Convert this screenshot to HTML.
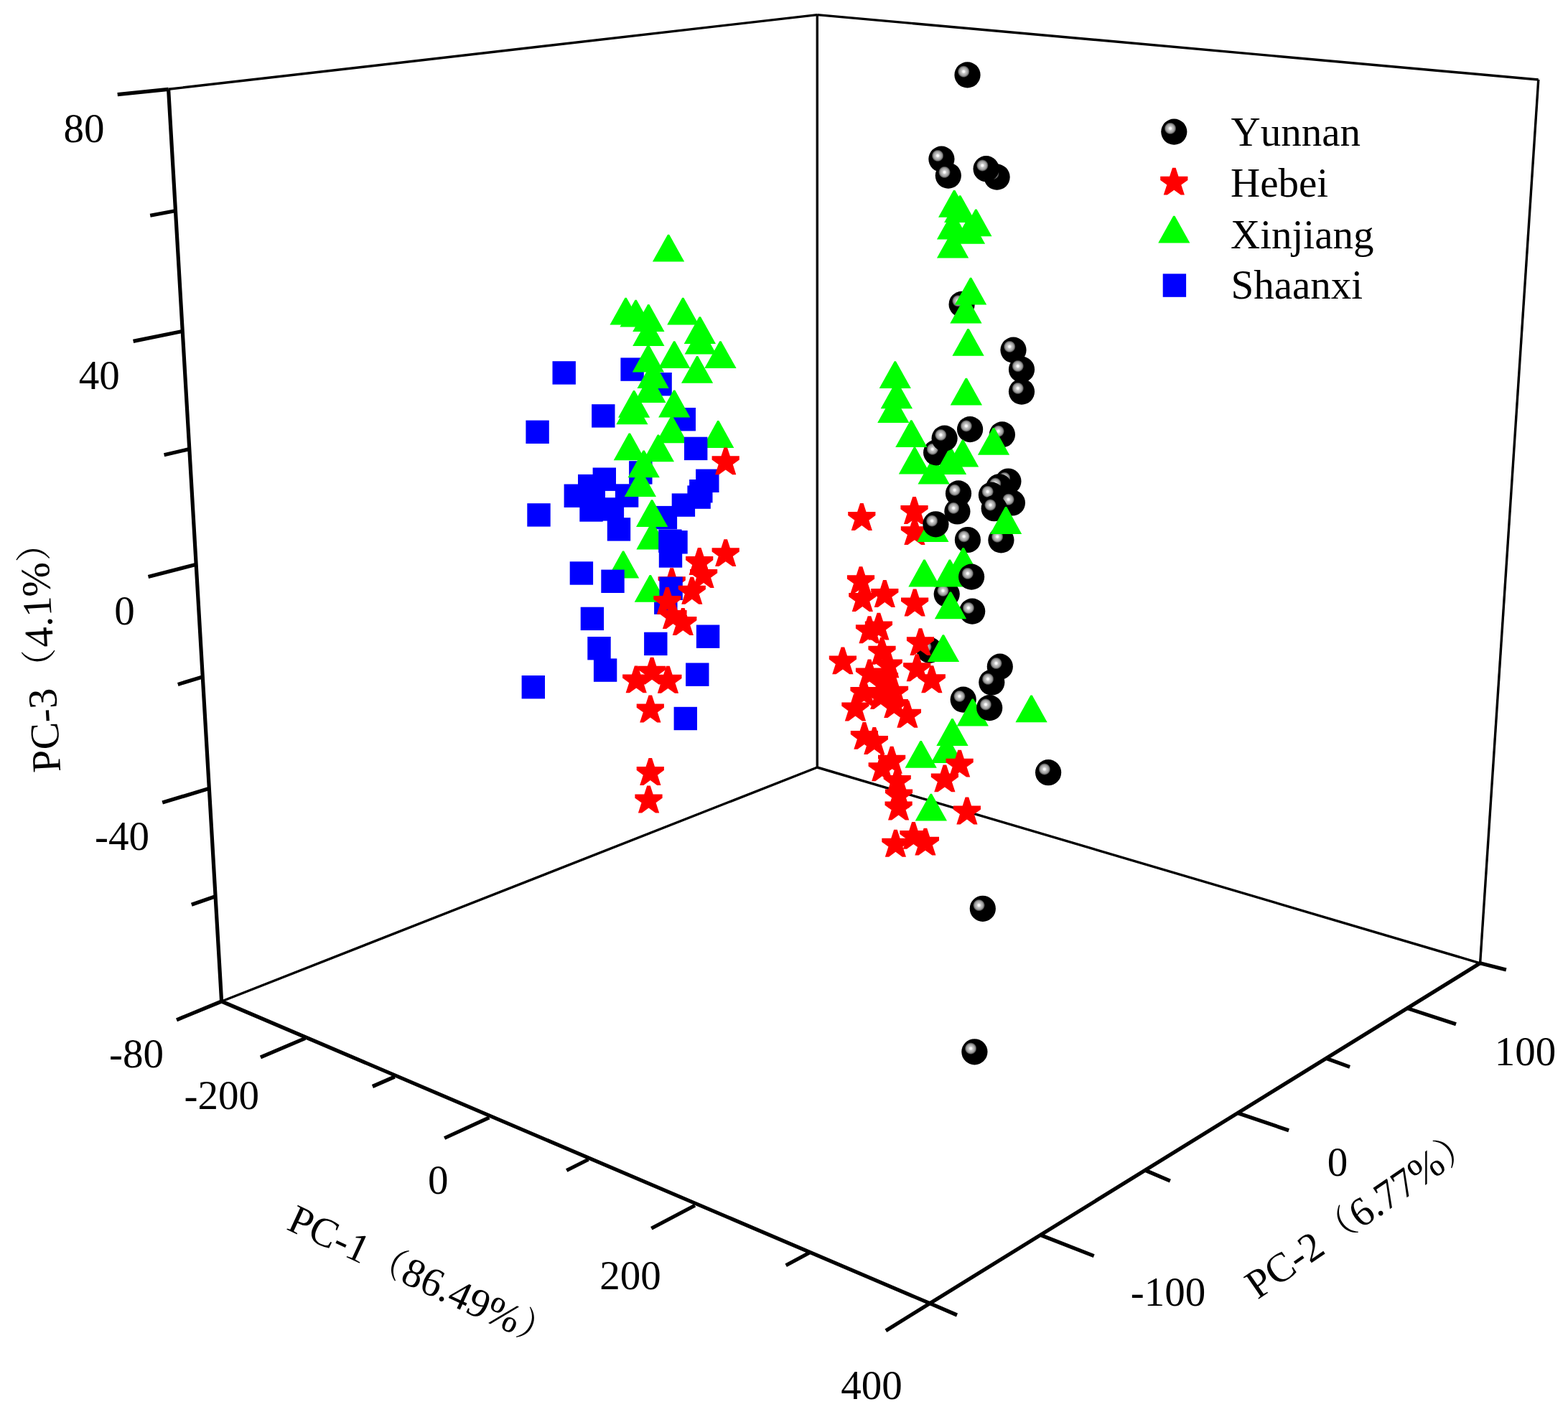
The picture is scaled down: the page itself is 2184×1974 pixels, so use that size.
<!DOCTYPE html>
<html lang="en">
<head>
<meta charset="utf-8">
<title>PCA 3D score plot</title>
<style>html,body{margin:0;padding:0;background:#fff}body{width:2184px;height:1974px;overflow:hidden}svg{display:block}</style>
</head>
<body>
<svg width="2184" height="1974" viewBox="0 0 2184 1974" role="img" aria-label="3D PCA score plot">
<defs><radialGradient id="sg" cx="0.354" cy="0.37" r="0.232" gradientUnits="objectBoundingBox"><stop offset="0" stop-color="#ffffff"/><stop offset="0.18" stop-color="#f6f6f6"/><stop offset="0.36" stop-color="#c4c4c4"/><stop offset="0.62" stop-color="#a8a8a8"/><stop offset="0.82" stop-color="#787878"/><stop offset="1" stop-color="#000000"/></radialGradient></defs>
<rect width="2184" height="1974" fill="#fff"/>
<g stroke="#000" stroke-linecap="butt" fill="none">
<line x1="234.6" y1="124.3" x2="1138.3" y2="20.6" stroke-width="3.4"/>
<line x1="1138.3" y1="20.6" x2="2142.8" y2="111" stroke-width="3.4"/>
<line x1="1138.3" y1="20.6" x2="1138.3" y2="1069" stroke-width="3.4"/>
<line x1="1138.3" y1="1069" x2="308.6" y2="1395" stroke-width="3.4"/>
<line x1="1138.3" y1="1069" x2="2061.6" y2="1341.8" stroke-width="3.4"/>
<line x1="2142.8" y1="111" x2="2061.6" y2="1341.8" stroke-width="3.4"/>
</g>
<g stroke="#000" stroke-linecap="butt" stroke-linejoin="round" fill="none">
<polyline points="234.6,124.3 308.6,1395 1295.1,1815.7 2061.6,1341.8" stroke-width="5.2"/>
<line x1="163.7" y1="131.7" x2="234.6" y2="124.3" stroke-width="5.2"/>
<line x1="209.2" y1="300.2" x2="242.5" y2="294" stroke-width="5.2"/>
<line x1="185.6" y1="475.4" x2="252.6" y2="461.8" stroke-width="5.2"/>
<line x1="228.6" y1="633.7" x2="263.5" y2="625.6" stroke-width="5.2"/>
<line x1="206.5" y1="803.6" x2="272.5" y2="786.5" stroke-width="5.2"/>
<line x1="247.8" y1="953.4" x2="282" y2="943" stroke-width="5.2"/>
<line x1="226.2" y1="1118" x2="291" y2="1098.6" stroke-width="5.2"/>
<line x1="266.8" y1="1260.2" x2="300" y2="1248.7" stroke-width="5.2"/>
<line x1="246" y1="1420.8" x2="308.6" y2="1395" stroke-width="5.2"/>
<line x1="362.9" y1="1472.9" x2="425.2" y2="1446.3" stroke-width="5.2"/>
<line x1="518.9" y1="1513.5" x2="549.8" y2="1500" stroke-width="5.2"/>
<line x1="619.1" y1="1585.5" x2="681.4" y2="1556.8" stroke-width="5.2"/>
<line x1="789.2" y1="1630.5" x2="819.5" y2="1615.3" stroke-width="5.2"/>
<line x1="907.3" y1="1711.2" x2="968" y2="1679.2" stroke-width="5.2"/>
<line x1="1094.7" y1="1762.7" x2="1127.2" y2="1745.3" stroke-width="5.2"/>
<line x1="1233.9" y1="1853.7" x2="1295.1" y2="1815.7" stroke-width="5.2"/>
<line x1="1295.1" y1="1815.7" x2="1333" y2="1832" stroke-width="5.2"/>
<line x1="1450.6" y1="1721" x2="1523.7" y2="1749.7" stroke-width="5.2"/>
<line x1="1595.7" y1="1630.5" x2="1629.9" y2="1645.1" stroke-width="5.2"/>
<line x1="1723" y1="1550.3" x2="1795.1" y2="1574.7" stroke-width="5.2"/>
<line x1="1847.6" y1="1474.5" x2="1880.1" y2="1486.4" stroke-width="5.2"/>
<line x1="1958.7" y1="1404.1" x2="2028" y2="1426.8" stroke-width="5.2"/>
<line x1="2061.6" y1="1341.8" x2="2097.9" y2="1351" stroke-width="5.2"/>
</g>
<g fill="#0000ff"><rect x="769.5" y="503.2" width="32.4" height="32.4"/><rect x="864.4" y="498.4" width="32.4" height="32.4"/><rect x="903.4" y="519" width="32.4" height="32.4"/><rect x="824.1" y="563.2" width="32.4" height="32.4"/><rect x="936.6" y="568" width="32.4" height="32.4"/><rect x="732.4" y="585.6" width="32.4" height="32.4"/><rect x="825.6" y="651.5" width="32.4" height="32.4"/><rect x="805" y="660.9" width="32.4" height="32.4"/><rect x="785.6" y="674.5" width="32.4" height="32.4"/><rect x="876.1" y="642.2" width="32.4" height="32.4"/><rect x="856.9" y="674.3" width="32.4" height="32.4"/><rect x="810.6" y="679.7" width="32.4" height="32.4"/><rect x="807.3" y="694.3" width="32.4" height="32.4"/><rect x="836.7" y="693.2" width="32.4" height="32.4"/><rect x="845.8" y="721.2" width="32.4" height="32.4"/><rect x="969.1" y="653.6" width="32.4" height="32.4"/><rect x="960.1" y="668" width="32.4" height="32.4"/><rect x="957.4" y="676.4" width="32.4" height="32.4"/><rect x="935.7" y="687.4" width="32.4" height="32.4"/><rect x="910.7" y="704.9" width="32.4" height="32.4"/><rect x="734.3" y="701.2" width="32.4" height="32.4"/><rect x="793.7" y="782.3" width="32.4" height="32.4"/><rect x="808.7" y="845.7" width="32.4" height="32.4"/><rect x="818.3" y="887" width="32.4" height="32.4"/><rect x="826.9" y="917.4" width="32.4" height="32.4"/><rect x="726.6" y="941" width="32.4" height="32.4"/><rect x="897.1" y="880.7" width="32.4" height="32.4"/><rect x="969.9" y="870.5" width="32.4" height="32.4"/><rect x="955.1" y="923.5" width="32.4" height="32.4"/><rect x="938.6" y="984.8" width="32.4" height="32.4"/><rect x="911.1" y="823.4" width="32.4" height="32.4"/></g>
<g fill="#ff0000"><polygon points="945.7,815 950.3,829.1 945.1,829.1 935.7,822.3 926.2,829.1 921,829.1 925.6,815 916.6,808.4 916.6,803.2 929.5,803.2 933.3,791.2 938,791.2 941.8,803.2 954.8,803.2 954.8,808.4"/></g>
<g fill="#00ff00"><polygon points="932.2,326.7 953.2,364.5 908.9,364.5 930,326.7"/><polygon points="872.7,414.7 893.8,452.5 849.5,452.5 870.5,414.7"/><polygon points="886.7,417.8 907.7,455.6 863.5,455.6 884.5,417.8"/><polygon points="904.4,424.1 925.5,461.9 881.2,461.9 902.2,424.1"/><polygon points="952.4,414.7 973.4,452.5 929.2,452.5 950.2,414.7"/><polygon points="904.4,444.1 925.5,481.9 881.2,481.9 902.2,444.1"/><polygon points="976,441.2 997,479 952.7,479 973.7,441.2"/><polygon points="976.8,455.8 997.8,493.6 953.6,493.6 974.6,455.8"/><polygon points="1004.5,475.2 1025.6,513 981.3,513 1002.3,475.2"/><polygon points="940.3,475.2 961.3,513 917.1,513 938.1,475.2"/><polygon points="904,480.6 925,518.4 880.8,518.4 901.8,480.6"/><polygon points="972.2,496 993.2,533.8 949,533.8 970,496"/><polygon points="910.7,503.3 931.7,541.1 887.5,541.1 908.5,503.3"/><polygon points="906.5,523.1 927.5,560.9 883.3,560.9 904.3,523.1"/><polygon points="884.2,544 905.2,581.8 861,581.8 882,544"/><polygon points="881.5,553.4 902.5,591.2 858.3,591.2 879.3,553.4"/><polygon points="940.3,543.6 961.3,581.4 917.1,581.4 938.1,543.6"/><polygon points="936.8,579.4 957.8,617.2 913.5,617.2 934.5,579.4"/><polygon points="1001.4,586.1 1022.4,623.9 978.2,623.9 999.2,586.1"/><polygon points="878,603.4 899,641.2 854.7,641.2 875.7,603.4"/><polygon points="918,605.5 939,643.3 894.8,643.3 915.8,605.5"/><polygon points="897.8,627.4 918.8,665.2 874.5,665.2 895.5,627.4"/><polygon points="893,654.2 914,692 869.7,692 890.7,654.2"/><polygon points="909.2,696.3 930.3,734.1 886,734.1 907,696.3"/><polygon points="909.7,727.6 930.7,765.4 886.4,765.4 907.4,727.6"/><polygon points="869.2,767.6 890.2,805.4 846,805.4 867,767.6"/><polygon points="906.9,801 928,838.8 883.7,838.8 904.7,801"/></g>
<g fill="#0000ff"><rect x="953" y="608.7" width="32.4" height="32.4"/><rect x="917.2" y="737.5" width="32.4" height="32.4"/><rect x="925.3" y="739.1" width="32.4" height="32.4"/><rect x="917.8" y="758.3" width="32.4" height="32.4"/><rect x="837.3" y="793.6" width="32.4" height="32.4"/><rect x="918.4" y="803.6" width="32.4" height="32.4"/></g>
<g fill="#ff0000"><polygon points="1020.8,647.1 1025.3,661.3 1020.2,661.3 1010.7,654.4 1001.3,661.3 996.1,661.3 1000.7,647.1 991.6,640.5 991.6,635.3 1004.5,635.3 1008.4,623.4 1013,623.4 1016.9,635.3 1029.8,635.3 1029.8,640.5"/><polygon points="1020.8,775 1025.3,789.1 1020.2,789.1 1010.7,782.2 1001.3,789.1 996.1,789.1 1000.7,775 991.6,768.4 991.6,763.2 1004.5,763.2 1008.4,751.2 1013,751.2 1016.9,763.2 1029.8,763.2 1029.8,768.4"/><polygon points="984.3,786.9 988.9,801 983.7,801 974.2,794.1 964.8,801 959.6,801 964.2,786.9 955.1,780.3 955.1,775.1 968,775.1 971.9,763.1 976.5,763.1 980.4,775.1 993.3,775.1 993.3,780.3"/><polygon points="990.1,804.8 994.7,818.9 989.5,818.9 980.1,812.1 970.6,818.9 965.4,818.9 970,804.8 961,798.2 961,793 973.9,793 977.8,781 982.4,781 986.3,793 999.2,793 999.2,798.2"/><polygon points="973.8,827.5 978.4,841.7 973.2,841.7 963.8,834.8 954.4,841.7 949.2,841.7 953.8,827.5 944.7,820.9 944.7,815.7 957.6,815.7 961.5,803.8 966.1,803.8 970,815.7 982.9,815.7 982.9,820.9"/><polygon points="939.4,841.7 944,855.8 938.8,855.8 929.4,849 920,855.8 914.8,855.8 919.4,841.7 910.3,835.1 910.3,829.9 923.2,829.9 927.1,817.9 931.7,817.9 935.6,829.9 948.5,829.9 948.5,835.1"/><polygon points="947.6,861.7 952.1,875.9 947,875.9 937.5,869 928.1,875.9 922.9,875.9 927.5,861.7 918.4,855.1 918.4,849.9 931.3,849.9 935.2,838 939.8,838 943.7,849.9 956.6,849.9 956.6,855.1"/><polygon points="961.3,870.9 965.9,885 960.7,885 951.3,878.2 941.9,885 936.7,885 941.3,870.9 932.2,864.3 932.2,859.1 945.1,859.1 949,847.1 953.6,847.1 957.5,859.1 970.4,859.1 970.4,864.3"/><polygon points="918.1,939.5 922.7,953.6 917.6,953.6 908.1,946.8 898.7,953.6 893.5,953.6 898.1,939.5 889,932.9 889,927.7 901.9,927.7 905.8,915.7 910.4,915.7 914.3,927.7 927.2,927.7 927.2,932.9"/><polygon points="896.3,951.2 900.8,965.3 895.7,965.3 886.2,958.5 876.8,965.3 871.6,965.3 876.2,951.2 867.1,944.6 867.1,939.4 880,939.4 883.9,927.4 888.5,927.4 892.4,939.4 905.3,939.4 905.3,944.6"/><polygon points="940.5,951.6 945.1,965.7 939.9,965.7 930.4,958.9 921,965.7 915.8,965.7 920.4,951.6 911.3,945 911.3,939.8 924.2,939.8 928.1,927.8 932.7,927.8 936.6,939.8 949.5,939.8 949.5,945"/><polygon points="915.9,992.3 920.5,1006.4 915.3,1006.4 905.8,999.5 896.4,1006.4 891.2,1006.4 895.8,992.3 886.7,985.7 886.7,980.5 899.6,980.5 903.5,968.5 908.1,968.5 912,980.5 924.9,980.5 924.9,985.7"/><polygon points="915.9,1079.7 920.5,1093.9 915.3,1093.9 905.8,1087 896.4,1093.9 891.2,1093.9 895.8,1079.7 886.7,1073.1 886.7,1068 899.6,1068 903.5,1056 908.1,1056 912,1068 924.9,1068 924.9,1073.1"/><polygon points="913.6,1118.3 918.2,1132.5 913,1132.5 903.5,1125.6 894.1,1132.5 888.9,1132.5 893.5,1118.3 884.4,1111.7 884.4,1106.5 897.3,1106.5 901.2,1094.6 905.8,1094.6 909.7,1106.5 922.6,1106.5 922.6,1111.7"/></g>
<g fill="#00ff00"><polygon points="1301.7,636.7 1322.7,674.5 1278.5,674.5 1299.5,636.7"/></g>
<g fill="url(#sg)"><circle cx="1339.6" cy="423.9" r="18.1"/><circle cx="1395.9" cy="605.4" r="18.1"/><circle cx="1304.1" cy="630.4" r="18.1"/><circle cx="1351.1" cy="598.1" r="18.1"/><circle cx="1394.4" cy="752.4" r="18.1"/><circle cx="1347.9" cy="752" r="18.1"/><circle cx="1318.7" cy="827.6" r="18.1"/><circle cx="1354.2" cy="851.6" r="18.1"/><circle cx="1294.7" cy="905.8" r="18.1"/><circle cx="1341.7" cy="974.6" r="18.1"/></g>
<g fill="#ff0000"><polygon points="1210.3,724.7 1214.9,738.9 1209.7,738.9 1200.3,732 1190.8,738.9 1185.7,738.9 1190.3,724.7 1181.2,718.1 1181.2,712.9 1194.1,712.9 1198,701 1202.6,701 1206.5,712.9 1219.4,712.9 1219.4,718.1"/><polygon points="1283.5,715.8 1288.1,729.9 1282.9,729.9 1273.5,723.1 1264,729.9 1258.9,729.9 1263.4,715.8 1254.4,709.2 1254.4,704 1267.3,704 1271.2,692 1275.8,692 1279.7,704 1292.6,704 1292.6,709.2"/><polygon points="1283.9,745 1288.5,759.1 1283.3,759.1 1273.9,752.2 1264.5,759.1 1259.3,759.1 1263.9,745 1254.8,738.4 1254.8,733.2 1267.7,733.2 1271.6,721.2 1276.2,721.2 1280.1,733.2 1293,733.2 1293,738.4"/><polygon points="1209,813 1213.6,827.1 1208.4,827.1 1199,820.3 1189.5,827.1 1184.4,827.1 1189,813 1179.9,806.4 1179.9,801.2 1192.8,801.2 1196.7,789.2 1201.3,789.2 1205.2,801.2 1218.1,801.2 1218.1,806.4"/><polygon points="1211.3,837.8 1215.9,851.9 1210.7,851.9 1201.3,845.1 1191.8,851.9 1186.7,851.9 1191.3,837.8 1182.2,831.2 1182.2,826 1195.1,826 1199,814 1203.6,814 1207.5,826 1220.4,826 1220.4,831.2"/><polygon points="1242.3,831.8 1246.9,845.9 1241.7,845.9 1232.3,839.1 1222.9,845.9 1217.7,845.9 1222.3,831.8 1213.2,825.2 1213.2,820 1226.1,820 1230,808 1234.6,808 1238.5,820 1251.4,820 1251.4,825.2"/><polygon points="1284.2,844.3 1288.8,858.5 1283.6,858.5 1274.1,851.6 1264.7,858.5 1259.5,858.5 1264.1,844.3 1255,837.7 1255,832.6 1267.9,832.6 1271.8,820.6 1276.4,820.6 1280.3,832.6 1293.2,832.6 1293.2,837.7"/><polygon points="1233.9,877.4 1238.5,891.6 1233.3,891.6 1223.9,884.7 1214.5,891.6 1209.3,891.6 1213.9,877.4 1204.8,870.8 1204.8,865.6 1217.7,865.6 1221.6,853.7 1226.2,853.7 1230.1,865.6 1243,865.6 1243,870.8"/><polygon points="1221,882 1225.6,896.2 1220.4,896.2 1211,889.3 1201.6,896.2 1196.4,896.2 1201,882 1191.9,875.4 1191.9,870.2 1204.8,870.2 1208.7,858.3 1213.3,858.3 1217.2,870.2 1230.1,870.2 1230.1,875.4"/><polygon points="1292,899 1296.6,913.1 1291.4,913.1 1282,906.2 1272.6,913.1 1267.4,913.1 1272,899 1262.9,892.4 1262.9,887.2 1275.8,887.2 1279.7,875.2 1284.3,875.2 1288.2,887.2 1301.1,887.2 1301.1,892.4"/><polygon points="1238.5,911.5 1243.1,925.7 1237.9,925.7 1228.5,918.8 1219,925.7 1213.9,925.7 1218.5,911.5 1209.4,904.9 1209.4,899.7 1222.3,899.7 1226.2,887.8 1230.8,887.8 1234.7,899.7 1247.6,899.7 1247.6,904.9"/><polygon points="1183.9,925.2 1188.5,939.3 1183.3,939.3 1173.9,932.5 1164.4,939.3 1159.2,939.3 1163.8,925.2 1154.8,918.6 1154.8,913.4 1167.7,913.4 1171.6,901.4 1176.2,901.4 1180.1,913.4 1193,913.4 1193,918.6"/><polygon points="1256,967.6 1260.6,981.7 1255.4,981.7 1246,974.8 1236.6,981.7 1231.4,981.7 1236,967.6 1226.9,961 1226.9,955.8 1239.8,955.8 1243.7,943.8 1248.3,943.8 1252.2,955.8 1265.1,955.8 1265.1,961"/><polygon points="1236.7,973.8 1241.3,987.9 1236.1,987.9 1226.7,981 1217.3,987.9 1212.1,987.9 1216.7,973.8 1207.6,967.2 1207.6,962 1220.5,962 1224.4,950 1229,950 1232.9,962 1245.8,962 1245.8,967.2"/><polygon points="1255.8,985.8 1260.4,999.9 1255.2,999.9 1245.8,993 1236.4,999.9 1231.2,999.9 1235.8,985.8 1226.7,979.2 1226.7,974 1239.6,974 1243.5,962 1248.1,962 1252,974 1264.9,974 1264.9,979.2"/><polygon points="1242,949 1246.6,963.1 1241.4,963.1 1232,956.2 1222.6,963.1 1217.4,963.1 1222,949 1212.9,942.4 1212.9,937.2 1225.8,937.2 1229.7,925.2 1234.3,925.2 1238.2,937.2 1251.1,937.2 1251.1,942.4"/><polygon points="1221,942.3 1225.6,956.4 1220.4,956.4 1211,949.6 1201.6,956.4 1196.4,956.4 1201,942.3 1191.9,935.7 1191.9,930.5 1204.8,930.5 1208.7,918.5 1213.3,918.5 1217.2,930.5 1230.1,930.5 1230.1,935.7"/><polygon points="1247.7,930.2 1252.3,944.3 1247.1,944.3 1237.7,937.4 1228.2,944.3 1223,944.3 1227.6,930.2 1218.6,923.6 1218.6,918.4 1231.5,918.4 1235.3,906.4 1240,906.4 1243.9,918.4 1256.8,918.4 1256.8,923.6"/><polygon points="1287.2,935.1 1291.8,949.2 1286.6,949.2 1277.2,942.4 1267.8,949.2 1262.6,949.2 1267.2,935.1 1258.1,928.5 1258.1,923.3 1271,923.3 1274.9,911.3 1279.5,911.3 1283.4,923.3 1296.3,923.3 1296.3,928.5"/><polygon points="1307.9,951 1312.5,965.2 1307.3,965.2 1297.8,958.3 1288.4,965.2 1283.2,965.2 1287.8,951 1278.7,944.4 1278.7,939.2 1291.6,939.2 1295.5,927.3 1300.2,927.3 1304,939.2 1316.9,939.2 1316.9,944.4"/><polygon points="1213.5,968.9 1218.1,983.1 1212.9,983.1 1203.5,976.2 1194,983.1 1188.8,983.1 1193.4,968.9 1184.4,962.3 1184.4,957.1 1197.3,957.1 1201.2,945.2 1205.8,945.2 1209.7,957.1 1222.6,957.1 1222.6,962.3"/><polygon points="1201.5,990.2 1206.1,1004.4 1200.9,1004.4 1191.4,997.5 1182,1004.4 1176.8,1004.4 1181.4,990.2 1172.3,983.6 1172.3,978.5 1185.3,978.5 1189.1,966.5 1193.8,966.5 1197.6,978.5 1210.5,978.5 1210.5,983.6"/><polygon points="1273.9,999.5 1278.5,1013.7 1273.3,1013.7 1263.9,1006.8 1254.4,1013.7 1249.3,1013.7 1253.8,999.5 1244.8,992.9 1244.8,987.7 1257.7,987.7 1261.6,975.8 1266.2,975.8 1270.1,987.7 1283,987.7 1283,992.9"/><polygon points="1213.9,1029.7 1218.5,1043.8 1213.3,1043.8 1203.9,1037 1194.5,1043.8 1189.3,1043.8 1193.9,1029.7 1184.8,1023.1 1184.8,1017.9 1197.7,1017.9 1201.6,1005.9 1206.2,1005.9 1210.1,1017.9 1223,1017.9 1223,1023.1"/><polygon points="1227.8,1036.8 1232.4,1050.9 1227.2,1050.9 1217.8,1044.1 1208.3,1050.9 1203.2,1050.9 1207.7,1036.8 1198.7,1030.2 1198.7,1025 1211.6,1025 1215.5,1013 1220.1,1013 1224,1025 1236.9,1025 1236.9,1030.2"/><polygon points="1252.2,1063.5 1256.8,1077.7 1251.6,1077.7 1242.1,1070.8 1232.7,1077.7 1227.5,1077.7 1232.1,1063.5 1223,1056.9 1223,1051.7 1235.9,1051.7 1239.8,1039.8 1244.4,1039.8 1248.3,1051.7 1261.2,1051.7 1261.2,1056.9"/><polygon points="1238.7,1074 1243.3,1088.2 1238.1,1088.2 1228.7,1081.3 1219.3,1088.2 1214.1,1088.2 1218.7,1074 1209.6,1067.4 1209.6,1062.2 1222.5,1062.2 1226.4,1050.3 1231,1050.3 1234.9,1062.2 1247.8,1062.2 1247.8,1067.4"/><polygon points="1259.7,1091.8 1264.3,1106 1259.1,1106 1249.7,1099.1 1240.2,1106 1235.1,1106 1239.6,1091.8 1230.6,1085.2 1230.6,1080 1243.5,1080 1247.4,1068.1 1252,1068.1 1255.9,1080 1268.8,1080 1268.8,1085.2"/><polygon points="1262,1111.4 1266.6,1125.5 1261.4,1125.5 1252,1118.6 1242.6,1125.5 1237.4,1125.5 1242,1111.4 1232.9,1104.8 1232.9,1099.6 1245.8,1099.6 1249.7,1087.6 1254.3,1087.6 1258.2,1099.6 1271.1,1099.6 1271.1,1104.8"/><polygon points="1261.6,1128.3 1266.2,1142.4 1261,1142.4 1251.6,1135.5 1242.1,1142.4 1237,1142.4 1241.6,1128.3 1232.5,1121.7 1232.5,1116.5 1245.4,1116.5 1249.3,1104.5 1253.9,1104.5 1257.8,1116.5 1270.7,1116.5 1270.7,1121.7"/><polygon points="1356.9,1134.3 1361.5,1148.4 1356.3,1148.4 1346.9,1141.6 1337.4,1148.4 1332.3,1148.4 1336.9,1134.3 1327.8,1127.7 1327.8,1122.5 1340.7,1122.5 1344.6,1110.5 1349.2,1110.5 1353.1,1122.5 1366,1122.5 1366,1127.7"/><polygon points="1282.5,1168.7 1287.1,1182.8 1281.9,1182.8 1272.4,1176 1263,1182.8 1257.8,1182.8 1262.4,1168.7 1253.3,1162.1 1253.3,1156.9 1266.2,1156.9 1270.1,1144.9 1274.7,1144.9 1278.6,1156.9 1291.5,1156.9 1291.5,1162.1"/><polygon points="1257.4,1179.6 1262,1193.7 1256.8,1193.7 1247.4,1186.8 1238,1193.7 1232.8,1193.7 1237.4,1179.6 1228.3,1173 1228.3,1167.8 1241.2,1167.8 1245.1,1155.8 1249.7,1155.8 1253.6,1167.8 1266.5,1167.8 1266.5,1173"/><polygon points="1298.9,1177.5 1303.5,1191.6 1298.3,1191.6 1288.9,1184.8 1279.5,1191.6 1274.3,1191.6 1278.9,1177.5 1269.8,1170.9 1269.8,1165.7 1282.7,1165.7 1286.6,1153.7 1291.2,1153.7 1295.1,1165.7 1308,1165.7 1308,1170.9"/></g>
<g fill="#00ff00"><polygon points="1330.3,265 1351.3,302.8 1307,302.8 1328,265"/><polygon points="1338.3,272.3 1359.3,310.1 1315.1,310.1 1336.1,272.3"/><polygon points="1360.5,291.5 1381.5,329.3 1337.3,329.3 1358.3,291.5"/><polygon points="1328.2,295.7 1349.2,333.5 1304.9,333.5 1326,295.7"/><polygon points="1351.1,301.9 1372.1,339.7 1327.9,339.7 1348.9,301.9"/><polygon points="1328.2,321.7 1349.2,359.5 1304.9,359.5 1326,321.7"/><polygon points="1353.2,386.8 1374.2,424.6 1330,424.6 1351,386.8"/><polygon points="1346.5,412.7 1367.6,450.5 1323.3,450.5 1344.3,412.7"/><polygon points="1349.7,458 1370.7,495.8 1326.4,495.8 1347.4,458"/><polygon points="1247.9,503.2 1268.9,541 1224.7,541 1245.7,503.2"/><polygon points="1250,531.4 1271,569.2 1226.7,569.2 1247.8,531.4"/><polygon points="1245.4,551.2 1266.4,589 1222.2,589 1243.2,551.2"/><polygon points="1347,526.8 1368,564.6 1323.7,564.6 1344.7,526.8"/><polygon points="1270.4,585.2 1291.4,623 1247.2,623 1268.2,585.2"/><polygon points="1385.1,596 1406.1,633.8 1361.9,633.8 1382.9,596"/><polygon points="1342.2,612.7 1363.2,650.5 1318.9,650.5 1339.9,612.7"/><polygon points="1275,622.7 1296,660.5 1251.8,660.5 1272.8,622.7"/><polygon points="1325.1,623.1 1346.1,660.9 1301.8,660.9 1322.8,623.1"/><polygon points="1300.4,717.2 1321.5,755 1277.2,755 1298.2,717.2"/><polygon points="1342.8,762.9 1363.8,800.7 1319.5,800.7 1340.6,762.9"/><polygon points="1288.6,779.6 1309.6,817.4 1265.3,817.4 1286.3,779.6"/><polygon points="1324,779.6 1345,817.4 1300.8,817.4 1321.8,779.6"/><polygon points="1325.1,824.5 1346.1,862.3 1301.8,862.3 1322.8,824.5"/><polygon points="1315,884.3 1336.1,922.1 1291.8,922.1 1312.8,884.3"/><polygon points="1437.7,968.4 1458.7,1006.2 1414.4,1006.2 1435.4,968.4"/><polygon points="1355.9,973.6 1376.9,1011.4 1332.7,1011.4 1353.7,973.6"/><polygon points="1327.6,1001.1 1348.6,1038.9 1304.3,1038.9 1325.3,1001.1"/><polygon points="1283.8,1032 1304.8,1069.8 1260.5,1069.8 1281.5,1032"/><polygon points="1319.8,1025.3 1340.9,1063.1 1296.6,1063.1 1317.6,1025.3"/><polygon points="1297.9,1105.7 1319,1143.5 1274.7,1143.5 1295.7,1105.7"/></g>
<g fill="url(#sg)"><circle cx="1347.5" cy="104.4" r="18.1"/><circle cx="1311.4" cy="221.6" r="18.1"/><circle cx="1320.8" cy="244.6" r="18.1"/><circle cx="1388.6" cy="246.6" r="18.1"/><circle cx="1373.6" cy="235.2" r="18.1"/><circle cx="1315.6" cy="610.6" r="18.1"/><circle cx="1411.5" cy="487.6" r="18.1"/><circle cx="1423" cy="514.7" r="18.1"/><circle cx="1423" cy="545.6" r="18.1"/><circle cx="1404.4" cy="670.5" r="18.1"/><circle cx="1391.6" cy="678.3" r="18.1"/><circle cx="1380.9" cy="689.6" r="18.1"/><circle cx="1409.9" cy="700.5" r="18.1"/><circle cx="1384.7" cy="708.2" r="18.1"/><circle cx="1335" cy="687.4" r="18.1"/><circle cx="1333.4" cy="712.5" r="18.1"/><circle cx="1303.4" cy="730.3" r="18.1"/><circle cx="1353.1" cy="803.6" r="18.1"/><circle cx="1392.8" cy="928.7" r="18.1"/><circle cx="1381.3" cy="950.6" r="18.1"/><circle cx="1378.2" cy="986.1" r="18.1"/><circle cx="1460.1" cy="1076.2" r="18.1"/><circle cx="1368.8" cy="1265.8" r="18.1"/><circle cx="1357.4" cy="1465.3" r="18.1"/></g>
<g fill="#00ff00"><polygon points="1402.2,706.1 1423.2,743.9 1379,743.9 1400,706.1"/></g>
<g fill="#ff0000"><polygon points="1346.6,1068.4 1351.2,1082.6 1346.1,1082.6 1336.6,1075.7 1327.2,1082.6 1322,1082.6 1326.6,1068.4 1317.5,1061.9 1317.5,1056.7 1330.4,1056.7 1334.3,1044.7 1338.9,1044.7 1342.8,1056.7 1355.7,1056.7 1355.7,1061.9"/><polygon points="1325.9,1089.2 1330.5,1103.3 1325.3,1103.3 1315.9,1096.5 1306.4,1103.3 1301.2,1103.3 1305.8,1089.2 1296.8,1082.6 1296.8,1077.4 1309.7,1077.4 1313.6,1065.4 1318.2,1065.4 1322.1,1077.4 1335,1077.4 1335,1082.6"/></g>
<g fill="url(#sg)"><circle cx="1635.3" cy="183.6" r="18.1"/></g>
<g fill="#ff0000"><polygon points="1645.3,257.5 1649.9,271.6 1644.7,271.6 1635.3,264.7 1625.9,271.6 1620.7,271.6 1625.3,257.5 1616.2,250.9 1616.2,245.7 1629.1,245.7 1633,233.7 1637.6,233.7 1641.5,245.7 1654.4,245.7 1654.4,250.9"/></g>
<g fill="#00ff00"><polygon points="1636.4,300.8 1657.4,338.6 1613.2,338.6 1634.2,300.8"/></g>
<g fill="#0000ff"><rect x="1619.7" y="381.4" width="32.4" height="32.4"/></g>
<g font-family="'Liberation Serif', 'Noto Serif CJK SC', serif" font-size="57" fill="#000" style="font-kerning:none">
<text x="1714.5" y="203" text-anchor="start">Yunnan</text>
<text x="1714" y="274.3" text-anchor="start">Hebei</text>
<text x="1714" y="346.3" text-anchor="start">Xinjiang</text>
<text x="1714.5" y="415.7" text-anchor="start">Shaanxi</text>
<text x="117" y="198" text-anchor="middle">80</text>
<text x="138.2" y="541.7" text-anchor="middle">40</text>
<text x="173.5" y="870" text-anchor="middle">0</text>
<text x="170" y="1184" text-anchor="middle">-40</text>
<text x="190" y="1486.5" text-anchor="middle">-80</text>
<text x="308.7" y="1544.5" text-anchor="middle">-200</text>
<text x="610.3" y="1663" text-anchor="middle">0</text>
<text x="878" y="1795.7" text-anchor="middle">200</text>
<text x="1214" y="1948.5" text-anchor="middle">400</text>
<text x="1627" y="1818.5" text-anchor="middle">-100</text>
<text x="1863" y="1637.6" text-anchor="middle">0</text>
<text x="2124.5" y="1484.3" text-anchor="middle">100</text>
<text transform="translate(84.3,1075) rotate(-93.3)" x="0" y="0">PC-3<tspan font-size="50" dx="5.5" dy="-2.4">（</tspan><tspan dx="1.5" dy="2.4">4.1%</tspan><tspan font-size="50" dx="1.5" dy="-2.4">）</tspan></text>
<text transform="translate(397.5,1712) rotate(24.8)" x="0" y="0">PC-1<tspan font-size="50" dx="5.5" dy="-2.4">（</tspan><tspan dx="1.5" dy="2.4">86.49%</tspan><tspan font-size="50" dx="1.5" dy="-2.4">）</tspan></text>
<text transform="translate(1751.6,1811) rotate(-34.5)" x="0" y="0">PC-2<tspan font-size="50" dx="5.5" dy="-2.4">（</tspan><tspan dx="1.5" dy="2.4">6.77%</tspan><tspan font-size="50" dx="1.5" dy="-2.4">）</tspan></text>
</g>
</svg>
</body>
</html>
